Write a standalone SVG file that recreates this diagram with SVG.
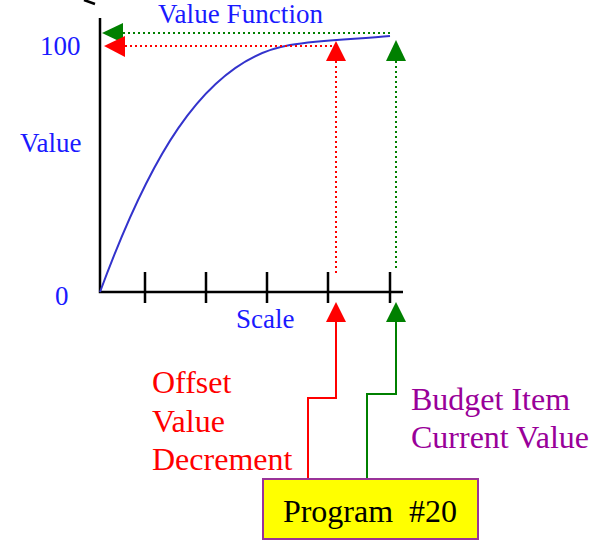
<svg xmlns="http://www.w3.org/2000/svg" width="605" height="542" viewBox="0 0 605 542">
<style>
.t{font-family:"Liberation Serif","Times New Roman",serif}
.lb{font-size:27px;fill:#1a1aff}
.big{font-size:32px}
.ax{stroke:#000;stroke-width:2.5;fill:none}
.dr{stroke:#ff0000;stroke-width:2;stroke-dasharray:2,3;fill:none}
.dg{stroke:#008000;stroke-width:2;stroke-dasharray:2,3;fill:none}
.sr{stroke:#ff0000;stroke-width:2;fill:none}
.sg{stroke:#008000;stroke-width:2;fill:none}
</style>
<rect width="605" height="542" fill="#fff"/>
<path d="M84,0 L95,4" class="ax"/>
<g id="axes">
<path d="M100,18 V292 H403" class="ax"/>
<path d="M145,272 V303 M206,272 V303 M267,272 V303 M328,272 V303 M390,272 V303" class="ax"/>
</g>
<g id="curve">
<path d="M100,292 C145,170 200,60 290,45 C320,40 360,39 390,36" stroke="#3333cc" stroke-width="2" fill="none"/>
</g>
<g id="labels" class="t">
<text x="158" y="23" class="lb" textLength="165">Value Function</text>
<text x="40" y="55" class="lb">100</text>
<text x="20" y="152" class="lb">Value</text>
<text x="55" y="305" class="lb">0</text>
<text x="236" y="328" class="lb">Scale</text>
<text class="big" fill="#ff0000"><tspan x="152" y="393">Offset</tspan><tspan x="152" y="432">Value</tspan><tspan x="152" y="470">Decrement</tspan></text>
<text class="big" fill="#990099"><tspan x="411" y="410">Budget Item</tspan><tspan x="411" y="448">Current Value</tspan></text>
</g>
<g id="connectors">
<path d="M123,33 H390" class="dg"/>
<polygon points="102,33 123,23 123,43" fill="#008000"/>
<path d="M125,46 H333" class="dr"/>
<polygon points="104,46 125,36 125,57" fill="#ff0000"/>
<path d="M336,61 V273" class="dr"/>
<polygon points="336,41 326,61 346,61" fill="#ff0000"/>
<path d="M396,61 V271" class="dg"/>
<polygon points="396,40 386,61 406,61" fill="#008000"/>
<polygon points="336,302 326,322 346,322" fill="#ff0000"/>
<path d="M336,322 V398 H308 V479" class="sr"/>
<polygon points="396,302 386,322 406,322" fill="#008000"/>
<path d="M396,322 V394 H367 V479" class="sg"/>
</g>
<g id="program">
<rect x="263" y="479" width="215" height="60" fill="#ffff00" stroke="#993399" stroke-width="2"/>
<text x="370" y="522" class="t big" text-anchor="middle" xml:space="preserve">Program  #20</text>
</g>
</svg>
